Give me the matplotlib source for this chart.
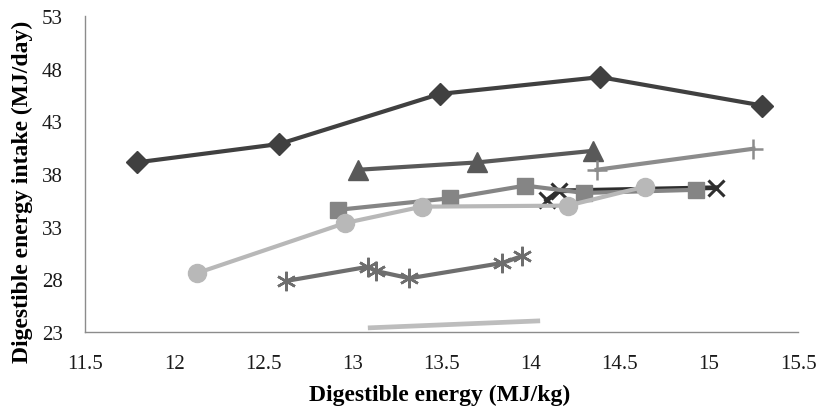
import matplotlib
matplotlib.use("Agg")
import matplotlib.pyplot as plt

plt.rcParams['font.family'] = ['Liberation Serif', 'DejaVu Serif']

# Series data (digestible energy MJ/kg, DE intake MJ/day)
diamond_x = [11.79, 12.59, 13.49, 14.39, 15.30]
diamond_y = [39.1, 40.85, 45.6, 47.2, 44.5]

triangle_x = [13.03, 13.70, 14.35]
triangle_y = [38.4, 39.1, 40.2]

plus_x = [14.37, 15.25]
plus_y = [38.4, 40.4]

cross_x = [14.09, 14.16, 15.04]
cross_y = [35.5, 36.4, 36.7]

square_x = [12.92, 13.55, 13.97, 14.30, 14.93]
square_y = [34.6, 35.7, 36.9, 36.2, 36.5]

circle_x = [12.13, 12.96, 13.39, 14.21, 14.64]
circle_y = [28.6, 33.35, 34.9, 35.0, 36.8]

star_x = [12.63, 13.09, 13.13, 13.32, 13.84, 13.95]
star_y = [27.85, 29.2, 28.8, 28.1, 29.55, 30.2]

plain_x = [13.10, 14.04]
plain_y = [23.4, 24.05]

x_ticks = [11.5, 12, 12.5, 13, 13.5, 14, 14.5, 15, 15.5]
x_ticklabels = ['11.5', '12', '12.5', '13', '13.5', '14', '14.5', '15', '15.5']
y_ticks = [23, 28, 33, 38, 43, 48, 53]
y_ticklabels = ['23', '28', '33', '38', '43', '48', '53']

fig = plt.figure(figsize=(8.19, 4.10), dpi=100)
ax = fig.add_axes([0.1038, 0.1878, 0.8706, 0.7707])

lw = 3.0
ax.plot(diamond_x, diamond_y, color='#404040', lw=lw, marker='D', ms=11.5, zorder=3)
ax.plot(triangle_x, triangle_y, color='#595959', lw=lw, marker='^', ms=14, zorder=3)
ax.plot(plus_x, plus_y, color='#8c8c8c', lw=lw, marker='+', ms=14, mew=1.8, zorder=3)
ax.plot(cross_x, cross_y, color='#2e2e2e', lw=3.4, marker='x', ms=12, mew=2.2, zorder=3)
ax.plot(square_x, square_y, color='#858585', lw=lw, marker='s', ms=12, zorder=4)
ax.plot(circle_x, circle_y, color='#b8b8b8', lw=lw, marker='o', ms=13, zorder=5)
ax.plot(star_x, star_y, color='#6e6e6e', lw=lw, marker=(6, 2, 0), ms=14, mew=1.8, zorder=3)
ax.plot(plain_x, plain_y, color='#bdbdbd', lw=3.4, solid_capstyle='projecting', zorder=3)

ax.set_xlim(11.5, 15.5)
ax.set_ylim(23, 53)
ax.set_xticks(x_ticks)
ax.set_xticklabels(x_ticklabels)
ax.set_yticks(y_ticks)
ax.set_yticklabels(y_ticklabels)
ax.tick_params(length=0, labelsize=15, colors='#1a1a1a')
ax.tick_params(axis='x', pad=16)
ax.tick_params(axis='y', pad=16)

for s in ['top', 'right']:
    ax.spines[s].set_visible(False)
for s in ['left', 'bottom']:
    ax.spines[s].set_color('#8c8c8c')
    ax.spines[s].set_linewidth(1.0)

ax.set_xlabel('Digestible energy (MJ/kg)', fontsize=17, fontweight='bold')
ax.set_ylabel('Digestible energy intake (MJ/day)', fontsize=17, fontweight='bold')
ax.xaxis.set_label_coords(440 / 819, 1 - 395 / 410, transform=fig.transFigure)
ax.yaxis.set_label_coords(22 / 819, 1 - 192 / 410, transform=fig.transFigure)
ax.xaxis.label.set_va('center')
ax.yaxis.label.set_va('center')

fig.savefig('out.png', dpi=100)
